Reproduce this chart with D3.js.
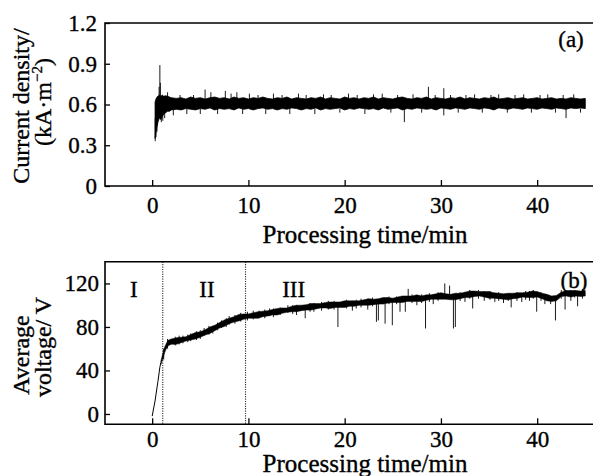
<!DOCTYPE html>
<html><head><meta charset="utf-8">
<script src="https://cdn.jsdelivr.net/npm/d3@7/dist/d3.min.js"></script>
<style>body{margin:0;background:#fff}svg{display:block}svg text{font-family:"Liberation Serif",serif !important;fill:#000;stroke:#000;stroke-width:0.35px}</style>
</head><body>
<svg id="c" width="593" height="476"></svg>
<script>
// ---------- data ----------
const xTicks = [0, 10, 20, 30, 40];
const yTicksA = [0, 0.3, 0.6, 0.9, 1.2];
const yTickLabelsA = ["0", "0.3", "0.6", "0.9", "1.2"];
const yTicksB = [0, 40, 80, 120];

// (a) current density band: time, lower and upper edge of the noise band
const timeA = [0.3,0.45,0.6,0.75,0.9,1.05,1.2,1.4,1.6,1.8,2,2.5,3,3.5,4,4.5,5,5.5,6,6.5,7,7.5,8,8.5,9,9.5,10,10.5,11,11.5,12,12.5,13,13.5,14,14.5,15,15.5,16,16.5,17,17.5,18,18.5,19,19.5,20,20.5,21,21.5,22,22.5,23,23.5,24,24.5,25,25.5,26,26.5,27,27.5,28,28.5,29,29.5,30,30.5,31,31.5,32,32.5,33,33.5,34,34.5,35,35.5,36,36.5,37,37.5,38,38.5,39,39.5,40,40.5,41,41.5,42,42.5,43,43.5,44,44.5,45];
const loA = [0.35,0.42,0.47,0.50,0.49,0.51,0.53,0.54,0.55,0.55,0.56,
0.565,0.56,0.57,0.565,0.56,0.57,0.565,0.575,0.56,0.57,
0.565,0.57,0.56,0.575,0.565,0.57,0.56,0.57,0.575,0.565,
0.57,0.56,0.57,0.565,0.575,0.57,0.56,0.57,0.565,0.575,
0.56,0.57,0.565,0.57,0.575,0.56,0.57,0.565,0.575,0.57,
0.565,0.57,0.56,0.575,0.565,0.57,0.575,0.56,0.57,0.565,
0.575,0.57,0.565,0.57,0.56,0.575,0.57,0.565,0.575,0.57,
0.565,0.575,0.57,0.565,0.575,0.57,0.56,0.575,0.57,0.565,
0.575,0.57,0.565,0.575,0.57,0.565,0.575,0.57,0.565,0.575,
0.57,0.565,0.575,0.57,0.575,0.57];
const hiA = [0.62,0.65,0.66,0.67,0.66,0.67,0.66,0.665,0.66,0.655,0.65,
0.645,0.65,0.64,0.655,0.645,0.65,0.64,0.65,0.655,0.645,
0.65,0.64,0.655,0.645,0.65,0.64,0.65,0.645,0.655,0.645,
0.64,0.65,0.645,0.655,0.64,0.65,0.645,0.64,0.65,0.645,
0.655,0.64,0.65,0.645,0.64,0.655,0.645,0.65,0.64,0.65,
0.645,0.655,0.64,0.65,0.645,0.64,0.65,0.655,0.645,0.64,
0.65,0.645,0.655,0.64,0.65,0.645,0.64,0.65,0.645,0.655,
0.64,0.65,0.645,0.64,0.65,0.645,0.655,0.64,0.645,0.65,
0.64,0.645,0.65,0.64,0.645,0.65,0.64,0.645,0.65,0.64,
0.645,0.64,0.65,0.645,0.64,0.645];
// (a) single excursions: [time, from, to]
const spikesA = [[0.32,0.33,0.5],[0.4,0.36,0.55],[0.5,0.40,0.62],[0.55,0.45,0.66],[0.72,0.60,0.73],[0.8,0.62,0.89],[0.85,0.60,0.76],[0.95,0.47,0.58],[1.1,0.48,0.56],[1.3,0.50,0.57],[1.6,0.60,0.69],[2.2,0.52,0.57],[2.9,0.60,0.67],[3.6,0.53,0.57],[4.3,0.6,0.67],[5.0,0.53,0.57],[5.5,0.6,0.71],[6.1,0.6,0.69],[6.8,0.53,0.57],[7.6,0.6,0.7],[8.2,0.6,0.68],[8.8,0.6,0.69],[9.4,0.53,0.57],[10.1,0.6,0.68],[11.0,0.6,0.67],[11.8,0.53,0.57],[12.6,0.6,0.68],[13.5,0.6,0.67],[14.3,0.53,0.57],[15.2,0.6,0.68],[16.0,0.6,0.67],[16.9,0.53,0.57],[17.8,0.6,0.675],[18.6,0.6,0.67],[19.5,0.54,0.57],[20.4,0.6,0.68],[21.3,0.6,0.67],[22.1,0.53,0.57],[23.0,0.6,0.675],[23.9,0.6,0.68],[24.8,0.54,0.57],[25.5,0.6,0.67],[26.2,0.47,0.58],[27.1,0.6,0.675],[28.0,0.54,0.57],[28.7,0.6,0.73],[29.4,0.6,0.67],[30.3,0.52,0.72],[31.0,0.6,0.67],[31.8,0.54,0.57],[32.6,0.6,0.67],[33.5,0.6,0.675],[34.3,0.54,0.57],[35.2,0.6,0.67],[36.0,0.6,0.675],[36.9,0.54,0.57],[37.7,0.6,0.67],[38.6,0.6,0.675],[39.4,0.54,0.57],[40.3,0.6,0.67],[41.1,0.6,0.675],[41.9,0.54,0.57],[42.7,0.6,0.67],[43.0,0.50,0.58],[43.8,0.6,0.675],[44.5,0.54,0.57]];

// (b) average voltage: initial rise, then band centre and half-width
const riseT = [0, 0.3, 0.6, 0.8, 0.9];
const riseV = [-2, 12, 30, 43, 47];
const timeB = [0.9,1,1.1,1.2,1.3,1.4,1.5,1.7,2,2.5,3,3.5,4,4.5,5,5.5,6,6.5,7,7.5,8,8.5,9,9.5,10,10.5,11,11.5,12,12.5,13,13.5,14,14.5,15,15.5,16,16.5,17,17.5,18,18.5,19,19.5,20,20.5,21,21.5,22,22.5,23,23.5,24,24.5,25,25.5,26,26.5,27,27.5,28,28.5,29,29.5,30,30.5,31,31.5,32,32.5,33,33.5,34,34.5,35,35.5,36,36.5,37,37.5,38,38.5,39,39.5,40,40.5,41,41.5,42,42.5,43,43.5,44,44.5,45];
const centreB = [47,50,53,56,59,61,63,65.5,
66.5,67,68,69,70.5,72,73,75,77,79,
81.5,83.5,85.5,87,88.5,89.5,90,90.5,91,92,
92.5,93.5,94,95,95.5,96.5,97,97.5,98,98.5,
99,99.5,100,100,100.5,100.5,101,101.5,101.5,102,
102.5,103,103,103.5,104,104.5,104.5,105,105.5,106,
106,106.5,106,107,107.5,108,108.5,108,107.5,108,
108.5,109.5,110,110.5,110.5,110,109.5,109,108.5,108,
108,108.5,109,109.5,109.5,110,110,108.5,107,106,
106.5,110,111,110.5,111,110.5,111];
const spreadB = [1.5,2,2.5,2.5,2.5,2.5,2.5,2.5,
2.5,3,2.5,2,2.5,3,2.5,2.5,3,2.5,
2.5,3,2.5,2.5,3,2.5,2,2.5,3,2.5,
2.5,2.5,3,2.5,2,2.5,3,2.5,2.5,3,
2.5,2,2.5,3,2.5,2.5,3,2.5,2.5,2,
2.5,3,2.5,2.5,3,2.5,2,2.5,3,2.5,
2.5,3,2.5,2.5,2,2.5,3,2.5,2.5,3,
2.5,2.5,3,2.5,2,2.5,3,2.5,2.5,2.5,
3,2.5,2.5,2,2.5,3,2.5,2.5,3,2.5,
2.5,2,2.5,3,2.5,2.5,2.5];
const spikesB = [[1.2,50,60],[1.6,60,69],[2.4,63,71],[2.8,64,72],[3.2,65,72],[3.7,66,73],[4.0,67,74],[4.6,68,76],[5.0,69,77],[5.4,72,79],[5.9,73,81],[6.3,74,81],[6.8,77,84],[7.2,79,86],[7.7,80,88],[8.0,82,90],[8.6,83,91],[9.2,85,93],[9.9,86,94],[10.5,87,95],[11.1,88,95],[11.7,88,96],[12.2,90,97],[12.6,89,97],[13.3,91,98],[14.1,93,100],[14.6,92,100],[15.0,91,100],[15.9,88,99],[16.4,94,102],[16.8,94,102],[17.6,95,103],[18.3,96,104],[18.9,96,104],[19.3,80,101],[20.2,97,105],[20.8,95,104],[21.2,97,105],[21.7,98,106],[22.4,96,106],[22.9,99,107],[23.3,84.7,103],[23.5,86,103],[24.2,83,104],[24.6,101,108],[24.95,81.6,105],[25.4,101,108],[25.75,94,105],[26.3,94,106],[26.6,104,115],[27.0,102,110],[27.5,100,108],[28.0,102,110],[28.4,78.6,107],[28.8,103,111],[29.2,101,110],[29.7,104,112],[30.4,106,120],[30.9,106,118],[31.3,78.6,107],[31.5,80,108],[32.0,104,112],[32.5,103,112],[33.0,106,114],[33.3,97,111],[33.9,106,114],[34.5,104,113],[35.1,105,113],[35.6,103,111],[36.0,104,112],[36.5,102,110],[37.0,104,111],[37.3,98,109],[37.9,104,112],[38.4,103,111],[38.8,105,113],[39.2,104,113],[39.6,106,114],[39.95,94,112],[40.4,104,112],[40.8,101,110],[41.4,101,108],[41.9,86,106],[42.5,106,114],[42.9,96,112],[43.5,104,114],[43.9,107,114],[44.2,99,113],[44.7,106,115]];
const stageBounds = [1.1, 9.7];
const stageLabels = [{t: -1.9, s: "I"}, {t: 5.7, s: "II"}, {t: 14.7, s: "III"}];

// ---------- drawing ----------
const FONT = "Liberation Serif";
const svg = d3.select("#c");
svg.append("rect").attr("width", 593).attr("height", 476).attr("fill", "#fff");

const L = 105, R = 593;
const x = d3.scaleLinear().domain([-4.9, 45.8]).range([L, R]);
const yA = d3.scaleLinear().domain([0, 1.2]).range([186, 23]);
const yB = d3.scaleLinear().domain([-9.5, 140]).range([424.3, 261.7]);

function frame(y) {
  const [b, t] = y.range();
  const g = svg.append("g").attr("stroke", "#000").attr("stroke-width", 1.6).attr("fill", "none");
  g.append("path").attr("d", `M${R},${t}H${L}V${b}H${R}`);
}

function axes(y, ticks, labels, xPad, yPad) {
  const [b] = y.range();
  const gx = svg.append("g").attr("transform", `translate(0,${b})`)
    .call(d3.axisBottom(x).tickValues(xTicks).tickSizeInner(-6).tickSizeOuter(0).tickPadding(xPad));
  const gy = svg.append("g").attr("transform", `translate(${L},0)`)
    .call(d3.axisLeft(y).tickValues(ticks).tickSizeInner(-5).tickSizeOuter(0).tickPadding(yPad)
      .tickFormat((d, i) => labels ? labels[i] : d));
  [gx, gy].forEach(g => {
    g.attr("font-family", FONT).attr("font-size", 23);
    g.select(".domain").remove();
    g.selectAll("line").attr("stroke", "#000").attr("stroke-width", 1.3);
    g.selectAll("text").attr("font-size", 23).attr("fill", "#000");
  });
}

// panel (a)
const dataA = timeA.map((t, i) => ({t, lo: loA[i], hi: hiA[i]}));
svg.append("path").datum(dataA)
  .attr("d", d3.area().x(d => x(d.t)).y0(d => yA(d.lo)).y1(d => yA(d.hi)))
  .attr("fill", "#000").attr("stroke", "#000").attr("stroke-width", 0.8);
svg.append("g").selectAll("line").data(spikesA).join("line")
  .attr("x1", d => x(d[0])).attr("x2", d => x(d[0]))
  .attr("y1", d => yA(d[1])).attr("y2", d => yA(d[2]))
  .attr("stroke", "#000").attr("stroke-width", 0.9);
frame(yA);
axes(yA, yTicksA, yTickLabelsA, 10.5, 8);

svg.append("text").attr("x", 571).attr("y", 47).attr("text-anchor", "middle")
  .attr("font-size", 23).text("(a)");
svg.append("text").attr("x", 365).attr("y", 243).attr("text-anchor", "middle")
  .attr("font-size", 25).text("Processing time/min");
svg.append("text").attr("transform", "translate(29,106) rotate(-90)").attr("text-anchor", "middle")
  .attr("font-size", 24).text("Current density/");
const t2 = svg.append("text").attr("transform", "translate(51,102) rotate(-90)").attr("text-anchor", "middle")
  .attr("font-size", 24);
t2.append("tspan").text("(kA·m");
t2.append("tspan").attr("font-size", 15).attr("dy", -9).text("−2");
t2.append("tspan").attr("dy", 9).text(")");

// panel (b)
stageBounds.forEach(t => {
  svg.append("line").attr("x1", x(t)).attr("x2", x(t))
    .attr("y1", yB.range()[1]).attr("y2", yB.range()[0])
    .attr("stroke", "#333").attr("stroke-width", 1.1).attr("stroke-dasharray", "1.2,1.2");
});
svg.append("path").datum(riseT.map((t, i) => [t, riseV[i]]))
  .attr("d", d3.line().x(d => x(d[0])).y(d => yB(d[1])))
  .attr("fill", "none").attr("stroke", "#000").attr("stroke-width", 1);
const dataB = timeB.map((t, i) => ({t, c: centreB[i], s: spreadB[i]}));
svg.append("path").datum(dataB)
  .attr("d", d3.area().x(d => x(d.t)).y0(d => yB(d.c - d.s)).y1(d => yB(d.c + d.s)))
  .attr("fill", "#000").attr("stroke", "#000").attr("stroke-width", 0.5);
svg.append("g").selectAll("line").data(spikesB).join("line")
  .attr("x1", d => x(d[0])).attr("x2", d => x(d[0]))
  .attr("y1", d => yB(d[1])).attr("y2", d => yB(d[2]))
  .attr("stroke", "#000").attr("stroke-width", 0.9);
frame(yB);
axes(yB, yTicksB, null, 6, 6);

stageLabels.forEach(d => {
  svg.append("text").attr("x", x(d.t)).attr("y", 297).attr("text-anchor", "middle")
    .attr("font-size", 23).text(d.s);
});
svg.append("text").attr("x", 574).attr("y", 288).attr("text-anchor", "middle")
  .attr("font-size", 23).text("(b)");
svg.append("text").attr("x", 365).attr("y", 472).attr("text-anchor", "middle")
  .attr("font-size", 25).text("Processing time/min");
svg.append("text").attr("transform", "translate(29,355) rotate(-90)").attr("text-anchor", "middle")
  .attr("font-size", 24).text("Average");
svg.append("text").attr("transform", "translate(51,347) rotate(-90)").attr("text-anchor", "middle")
  .attr("font-size", 24).text("voltage/ V");
</script>
</body></html>
